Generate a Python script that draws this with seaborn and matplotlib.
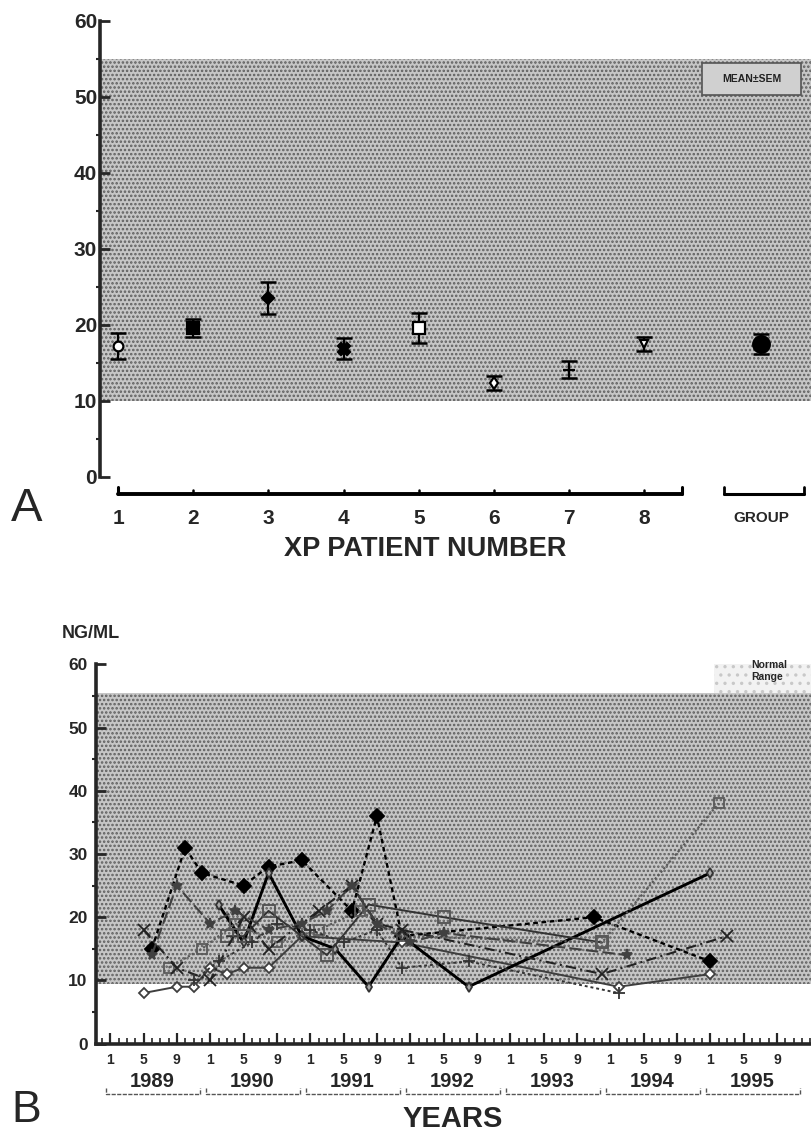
import matplotlib
matplotlib.use("Agg")
import matplotlib.pyplot as plt
import seaborn as sns
import pandas as pd
from matplotlib.patches import Rectangle

# -----------------------------------
# Panel A data : mean +/- SEM per XP patient
# -----------------------------------
patients = ["1", "2", "3", "4", "5", "6", "7", "8", "GROUP"]
mean_ng = [17.2, 19.6, 23.6, 16.9, 19.6, 12.4, 14.1, 17.5, 17.5]
sem_ng = [1.7, 1.2, 2.1, 1.4, 2.0, 0.9, 1.1, 0.9, 1.3]

# -----------------------------------
# Panel B data : month index (0 = Jan 1989) and ng/ml
# -----------------------------------
p1_month = [5, 9, 11, 16, 19, 23, 29, 32, 35, 58, 72]
p1_ng = [15, 31, 27, 25, 28, 29, 21, 36, 17, 20, 13]
p2_month = [4, 8, 10, 12, 14, 16, 19, 23, 35, 61, 72]
p2_ng = [8, 9, 9, 12, 11, 12, 12, 17, 16, 9, 11]
p3_month = [13, 16, 19, 23, 27, 31, 35, 43, 72]
p3_ng = [22, 16, 27, 17, 15, 9, 17, 9, 27]
p4_month = [14, 16, 19, 26, 31, 40, 59]
p4_ng = [17, 17, 21, 14, 22, 20, 16]
p5_month = [7, 11, 15, 20, 25, 30, 35, 59, 73]
p5_ng = [12, 15, 19, 16, 18, 21, 17, 16, 38]
p6_month = [4, 8, 12, 16, 19, 25, 29, 32, 35, 59, 74]
p6_ng = [18, 12, 10, 20, 15, 21, 25, 19, 18, 11, 17]
p7_month = [10, 13, 17, 20, 24, 28, 32, 35, 43, 61]
p7_ng = [10, 13, 16, 19, 18, 16, 18, 12, 13, 8]
p8_month = [5, 8, 12, 15, 19, 23, 26, 29, 32, 36, 40, 62]
p8_ng = [14, 25, 19, 21, 18, 19, 21, 25, 19, 16, 17.5, 14]

years = ["1989", "1990", "1991", "1992", "1993", "1994", "1995"]
month_labels = ["1", "5", "9"]

series = {
    "P1": (p1_month, p1_ng), "P2": (p2_month, p2_ng),
    "P3": (p3_month, p3_ng), "P4": (p4_month, p4_ng),
    "P5": (p5_month, p5_ng), "P6": (p6_month, p6_ng),
    "P7": (p7_month, p7_ng), "P8": (p8_month, p8_ng),
}
df = pd.concat(
    [pd.DataFrame({"patient": k, "month": m, "ngml": v}) for k, (m, v) in series.items()],
    ignore_index=True,
)

sns.set_theme(style="ticks")
plt.rcParams["font.family"] = ["Liberation Sans", "DejaVu Sans"]
plt.rcParams["hatch.linewidth"] = 1.2

W, H = 812, 1133
fig = plt.figure(figsize=(W / 100, H / 100), dpi=100)


def fig_rect(left, top, right, bottom):
    return [left / W, 1 - bottom / H, (right - left) / W, (bottom - top) / H]


# -----------------------------------
# Panel A
# -----------------------------------
axa = fig.add_axes(fig_rect(100, 21, 812, 477))
axa.set_xlim(0.76, 10.23)
axa.set_ylim(0, 60)
axa.axhspan(10, 55, facecolor="#c6c6c6", edgecolor="#5e5e5e", hatch="....", linewidth=0, zorder=0)

xpos = list(range(1, 9)) + [9.55]
styles_a = [
    dict(marker="o", mfc="white", ms=7),
    dict(marker="s", mfc="black", ms=8),
    dict(marker="D", mfc="black", ms=6),
    dict(marker="X", mfc="black", ms=8),
    dict(marker="s", mfc="white", ms=8),
    dict(marker="d", mfc="white", ms=6),
    dict(marker="+", mfc="black", ms=8),
    dict(marker="v", mfc="white", ms=6),
    dict(marker="o", mfc="black", ms=12),
]
for x, m, s, st in zip(xpos, mean_ng, sem_ng, styles_a):
    axa.errorbar(x, m, yerr=s, fmt="none", ecolor="black", elinewidth=1.6,
                 capsize=6, capthick=1.8, zorder=3)
    axa.plot(x, m, marker=st["marker"], ms=st["ms"], mfc=st["mfc"], mec="black",
             mew=1.6, ls="none", zorder=4)

sns.despine(ax=axa, bottom=True)
axa.spines["left"].set_linewidth(2.6)
axa.spines["left"].set_bounds(0, 60)
axa.set_yticks(range(0, 61, 10))
axa.set_yticks(range(5, 60, 10), minor=True)
axa.set_yticklabels([str(v) for v in range(0, 61, 10)], fontsize=15, fontweight="bold")
axa.tick_params(axis="y", which="major", direction="in", length=7, width=2, pad=2)
axa.tick_params(axis="y", which="minor", direction="out", length=3, width=1.5)
axa.set_xticks([])

# bracket axis under the patients
tr = axa.get_xaxis_transform()
axa.plot([1, 8.5], [-0.038, -0.038], color="black", lw=2.8, transform=tr, clip_on=False)
for x in [1, 8.5]:
    axa.plot([x, x], [-0.038, -0.022], color="black", lw=2.2, transform=tr, clip_on=False)
for x in range(2, 9):
    axa.plot([x, x], [-0.038, -0.028], color="black", lw=1.8, transform=tr, clip_on=False)
axa.plot([9.06, 10.13], [-0.038, -0.038], color="black", lw=2.2, transform=tr, clip_on=False)
for x in [9.06, 10.13]:
    axa.plot([x, x], [-0.038, -0.022], color="black", lw=2.0, transform=tr, clip_on=False)
for x, lab in zip(xpos, patients):
    axa.text(x, -0.09, lab, transform=tr, ha="center", va="center",
             fontsize=15 if lab != "GROUP" else 11, fontweight="bold")

# MEAN±SEM box
axa.add_patch(Rectangle((8.77, 50.3), 1.32, 4.2, facecolor="#d0d0d0", edgecolor="#555555",
                        lw=1.2, zorder=2))
axa.text(9.43, 52.4, "MEAN±SEM", ha="center", va="center", fontsize=7.5,
         fontweight="bold", color="#222222", zorder=3)

fig.text(425 / W, 1 - 549 / H, "XP PATIENT NUMBER", ha="center", va="center",
         fontsize=19.5, fontweight="bold")
fig.text(27 / W, 1 - 509 / H, "A", ha="center", va="center", fontsize=34)

# -----------------------------------
# Panel B
# -----------------------------------
axb = fig.add_axes(fig_rect(96, 664.4, 812, 1043.6))
axb.set_xlim(-1.7, 84.2)
axb.set_ylim(0, 60)
axb.axhspan(9.5, 55.5, facecolor="#c6c6c6", edgecolor="#5e5e5e", hatch="....", linewidth=0, zorder=0)
axb.add_patch(Rectangle((72.5, 55.5), 12, 5, facecolor="#f2f2f2", edgecolor="#c8c8c8",
                        hatch="..", linewidth=0, zorder=0))

styles_b = {
    "P1": dict(color="black", linestyle=(0, (2, 1.5)), marker="D", markerfacecolor="black",
               markeredgecolor="black", markersize=7, linewidth=1.7),
    "P2": dict(color="#3e3e3e", linestyle="-", marker="D", markerfacecolor="white",
               markeredgecolor="#3e3e3e", markersize=5, linewidth=1.4),
    "P3": dict(color="black", linestyle="-", marker="d", markerfacecolor="#aaaaaa",
               markeredgecolor="#333333", markersize=5, linewidth=2.1),
    "P4": dict(color="#333333", linestyle="-", marker="s", markerfacecolor="none",
               markeredgecolor="#505050", markersize=8, linewidth=1.4),
    "P5": dict(color="#5a5a5a", linestyle=(0, (1, 1)), marker="s", markerfacecolor="none",
               markeredgecolor="#5a5a5a", markersize=7, linewidth=1.6),
    "P6": dict(color="#222222", linestyle=(0, (5, 2, 1, 2)), marker="x", markerfacecolor="none",
               markeredgecolor="#222222", markersize=8, linewidth=1.5),
    "P7": dict(color="#333333", linestyle=(0, (1.5, 1.5)), marker="+", markerfacecolor="none",
               markeredgecolor="#333333", markersize=9, linewidth=1.4),
    "P8": dict(color="#404040", linestyle=(0, (6, 2)), marker="*", markerfacecolor="#404040",
               markeredgecolor="#404040", markersize=8, linewidth=1.5),
}
for name, g in df.groupby("patient", sort=False):
    sns.lineplot(data=g, x="month", y="ngml", ax=axb, sort=False, errorbar=None,
                 legend=False, zorder=3, markeredgewidth=1.3, **styles_b[name])

axb.set_xlabel("")
axb.set_ylabel("")
sns.despine(ax=axb)
for side in ["left", "bottom"]:
    axb.spines[side].set_linewidth(2.6)
axb.spines["left"].set_bounds(0, 60)
axb.set_yticks(range(0, 61, 10))
axb.set_yticks(range(5, 60, 10), minor=True)
axb.set_yticklabels([str(v) for v in range(0, 61, 10)], fontsize=12.5, fontweight="bold")
axb.tick_params(axis="y", which="major", direction="in", length=7, width=2, pad=6)
axb.tick_params(axis="y", which="minor", direction="out", length=3, width=1.5)

major_pos = [12 * k + m for k in range(len(years)) for m in (0, 4, 8)]
axb.set_xticks(major_pos)
axb.set_xticklabels(month_labels * len(years), fontsize=10, fontweight="bold")
axb.set_xticks(range(-1, 85), minor=True)
axb.tick_params(axis="x", which="major", direction="in", length=8, width=1.6, pad=7)
axb.tick_params(axis="x", which="minor", direction="in", length=4, width=1.2)

trb = axb.get_xaxis_transform()
for k, yr in enumerate(years):
    axb.text(12 * k + 5, -0.10, yr, transform=trb, ha="center", va="center",
             fontsize=14.5, fontweight="bold")
    x0, x1 = 12 * k - 0.5, 12 * k + 10.8
    axb.plot([x0, x0, x1, x1], [-0.118, -0.132, -0.132, -0.118], color="#555555",
             lw=1.0, ls=(0, (3, 1)), transform=trb, clip_on=False)

axb.text(76.9, 59, "Normal\nRange", ha="left", va="center", fontsize=7.5,
         fontweight="bold", linespacing=1.2)

fig.text(62 / W, 1 - 634 / H, "NG/ML", ha="left", va="center", fontsize=13, fontweight="bold")
fig.text(453 / W, 1 - 1119 / H, "YEARS", ha="center", va="center", fontsize=21, fontweight="bold")
fig.text(26 / W, 1 - 1110 / H, "B", ha="center", va="center", fontsize=32)

plt.savefig("out.png", dpi=100)
